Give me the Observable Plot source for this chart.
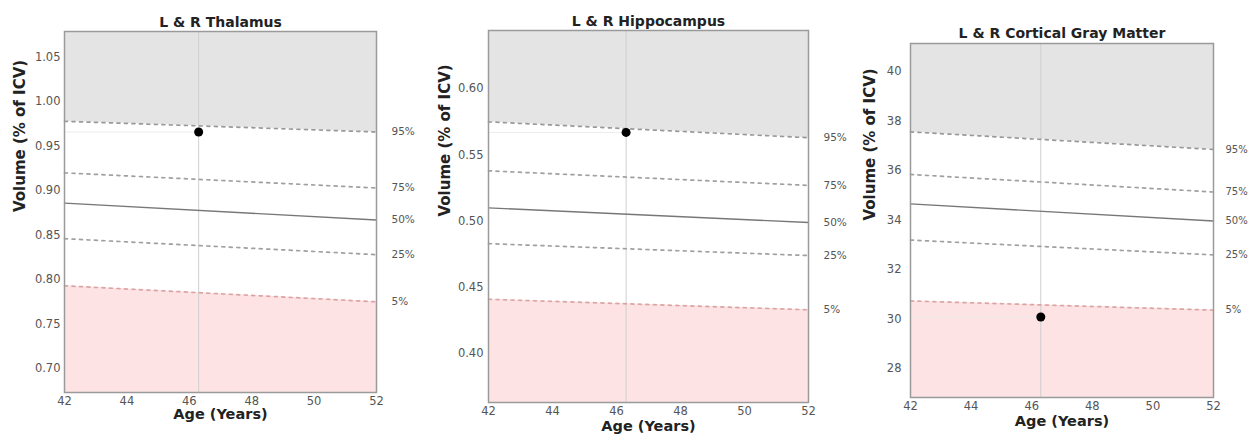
<!DOCTYPE html>
<html>
<head>
<meta charset="utf-8">
<script src="https://cdn.jsdelivr.net/npm/d3@7"></script>
<script src="https://cdn.jsdelivr.net/npm/@observablehq/plot@0.6"></script>
<style>
  html, body { margin: 0; padding: 0; background: #fff; }
  #wrap { position: relative; width: 1250px; height: 434px; overflow: hidden; }
  .panel { position: absolute; top: 0; }
  .panel svg { overflow: visible; }
</style>
</head>
<body>
<div id="wrap"></div>
<script>
// ---- data ----
const ages = [42, 52];
const xTicks = [42, 44, 46, 48, 50, 52];
const percentileLabels = ["95%", "75%", "50%", "25%", "5%"];

const titles = ["L & R Thalamus", "L & R Hippocampus", "L & R Cortical Gray Matter"];

const thalamusP95 = [0.978, 0.966];
const thalamusP75 = [0.920, 0.903];
const thalamusP50 = [0.886, 0.867];
const thalamusP25 = [0.846, 0.828];
const thalamusP5  = [0.793, 0.775];

const hippocampusP95 = [0.575, 0.563];
const hippocampusP75 = [0.538, 0.527];
const hippocampusP50 = [0.510, 0.499];
const hippocampusP25 = [0.483, 0.474];
const hippocampusP5  = [0.441, 0.433];

const corticalP95 = [37.56, 36.85];
const corticalP75 = [35.84, 35.13];
const corticalP50 = [34.65, 33.96];
const corticalP25 = [33.19, 32.59];
const corticalP5  = [30.73, 30.36];

const patientAge = 46.3;
const patientValues = [0.966, 0.567, 30.08];

const yLimits = [[0.673, 1.079], [0.363, 0.644], [26.83, 41.13]];
const yTicks = [
  [0.70, 0.75, 0.80, 0.85, 0.90, 0.95, 1.00, 1.05],
  [0.40, 0.45, 0.50, 0.55, 0.60],
  [28, 30, 32, 34, 36, 38, 40]
];
const yTickFormats = [d3.format(".2f"), d3.format(".2f"), d3.format("d")];

// ---- layout ----
const layouts = [
  {left: 0,   width: 420, mL: 64, mR: 44, mT: 31, mB: 42, titleDy: -14, xlabDy: 26, ylabDx: -44, tickPad: 4, pctDx: 15, pctSize: 10.5},
  {left: 420, width: 420, mL: 68, mR: 32, mT: 30, mB: 32, titleDy: -14, xlabDy: 28, ylabDx: -43, tickPad: 5, pctDx: 15, pctSize: 10.5},
  {left: 840, width: 410, mL: 70, mR: 37, mT: 43, mB: 37, titleDy: -15, xlabDy: 28, ylabDx: -40, tickPad: 9, pctDx: 12, pctSize: 10}
];

const series = [
  [thalamusP95, thalamusP75, thalamusP50, thalamusP25, thalamusP5],
  [hippocampusP95, hippocampusP75, hippocampusP50, hippocampusP25, hippocampusP5],
  [corticalP95, corticalP75, corticalP50, corticalP25, corticalP5]
];

const wrap = document.getElementById("wrap");

series.forEach((s, i) => {
  const L = layouts[i];
  const [ymin, ymax] = yLimits[i];
  const rows = ages.map((a, j) => ({
    age: a, p95: s[0][j], p75: s[1][j], p50: s[2][j], p25: s[3][j], p5: s[4][j]
  }));
  const last = rows[rows.length - 1];
  const labelRows = percentileLabels.map((lab, k) => ({
    label: lab, age: last.age, value: s[k][s[k].length - 1]
  }));
  const dashed = (key, color) => Plot.line(rows, {
    x: "age", y: key, stroke: color, strokeWidth: 1.7, strokeDasharray: "3,4.5"
  });

  const chart = Plot.plot({
    width: L.width,
    height: 434,
    marginLeft: L.mL, marginRight: L.mR, marginTop: L.mT, marginBottom: L.mB,
    style: {fontFamily: "DejaVu Sans", fontSize: "11.5px", color: "#555", background: "transparent"},
    x: {domain: [42, 52]},
    y: {domain: [ymin, ymax]},
    marks: [
      Plot.areaY(rows, {x: "age", y1: "p95", y2: () => ymax, fill: "#e4e4e4"}),
      Plot.areaY(rows, {x: "age", y1: () => ymin, y2: "p5", fill: "#fde3e3"}),
      Plot.ruleX([patientAge], {stroke: "#cfcfcf", strokeWidth: 1}),
      Plot.ruleY([patientValues[i]], {x1: 42, x2: patientAge, stroke: "#ececec", strokeWidth: 1}),
      dashed("p95", "#999"),
      dashed("p75", "#a0a0a0"),
      Plot.line(rows, {x: "age", y: "p50", stroke: "#777", strokeWidth: 1.4}),
      dashed("p25", "#a0a0a0"),
      dashed("p5", "#dca4a4"),
      Plot.dot([patientValues[i]], {x: () => patientAge, y: d => d, r: 4.5, fill: "#000", stroke: "none"}),
      Plot.axisY({ticks: yTicks[i], tickFormat: yTickFormats[i], tickSize: 0, tickPadding: L.tickPad, label: null, fill: "#555"}),
      Plot.axisX({ticks: xTicks, tickSize: 0, tickPadding: 4, label: null, fill: "#555"}),
      Plot.frame({stroke: "#9a9a9a", strokeWidth: 1.5}),
      Plot.text(labelRows, {x: "age", y: "value", text: "label", dx: L.pctDx, textAnchor: "start", fontSize: L.pctSize, fill: "#555"}),
      Plot.text([titles[i]], {frameAnchor: "top", dy: L.titleDy, fontWeight: "bold", fontSize: 14, fill: "#222"}),
      Plot.text(["Age (Years)"], {frameAnchor: "bottom", dy: L.xlabDy, fontWeight: "bold", fontSize: 14.5, fill: "#222"}),
      Plot.text(["Volume (% of ICV)"], {frameAnchor: "left", dx: L.ylabDx, rotate: -90, fontWeight: "bold", fontSize: 15, fill: "#222"})
    ]
  });
  const div = document.createElement("div");
  div.className = "panel";
  div.style.left = L.left + "px";
  div.appendChild(chart);
  wrap.appendChild(div);
});
</script>
</body>
</html>
